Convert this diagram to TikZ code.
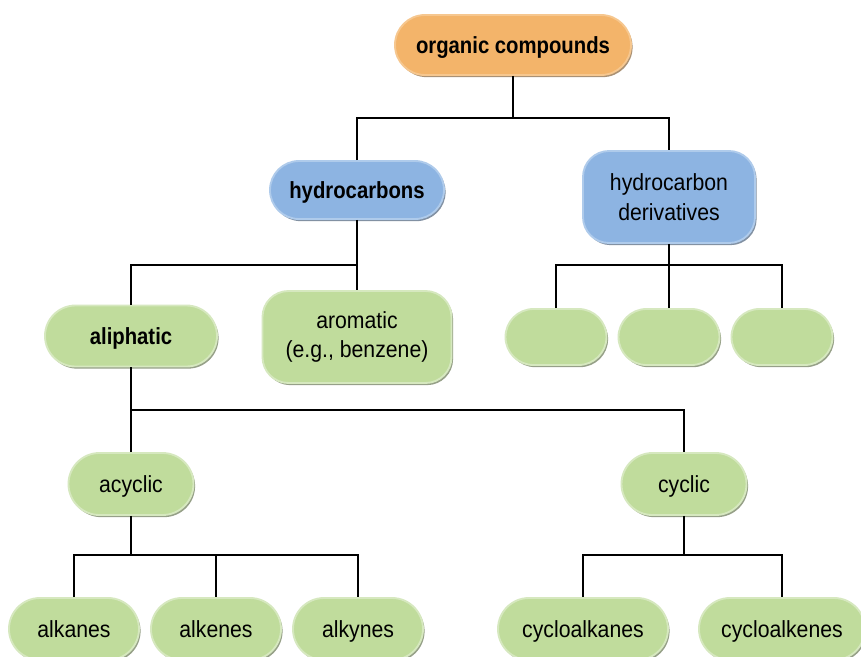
\documentclass[tikz,border=0pt]{standalone}
\usepackage{fontspec}
\setmainfont{Liberation Sans}[FakeStretch=0.91,BoldFeatures={FakeStretch=0.87}]
\usetikzlibrary{shadows}
\definecolor{orgF}{HTML}{F3B46A}
\definecolor{bluF}{HTML}{8DB4E2}
\definecolor{grnF}{HTML}{C0DC9C}
\tikzset{
  bw/.style={minimum width=#1*0.75pt},
  bh/.style={minimum height=#1*0.75pt},
  pill/.style={rounded corners=#1*0.375pt},
  one/.style={text height=15pt, text depth=2.5pt},
  boxbase/.style={rectangle, inner sep=0pt, text=black,
    font=\fontsize{17.5}{22}\selectfont, align=center, line width=1.4pt},
  orgbox/.style={boxbase, fill=orgF, draw=orgF!75!white,
    drop shadow={shadow xshift=1.2pt, shadow yshift=-1.6pt, fill=orgF!55!black, opacity=0.7}},
  blubox/.style={boxbase, fill=bluF, draw=bluF!70!white,
    drop shadow={shadow xshift=1.2pt, shadow yshift=-1.6pt, fill=bluF!55!black, opacity=0.7}},
  grnbox/.style={boxbase, fill=grnF, draw=grnF!65!white,
    drop shadow={shadow xshift=1.2pt, shadow yshift=-1.6pt, fill=grnF!55!black, opacity=0.7}},
  link/.style={draw=black, line width=1.5pt}
}
\begin{document}
\begin{tikzpicture}[x=0.75pt,y=-0.75pt]
\useasboundingbox[fill=white] (0,0) rectangle (861,657);
% nodes
\node[orgbox, one, bw=236, bh=60, pill=60] (oc) at (513,45) {\bfseries organic compounds};
\node[blubox, one, bw=174, bh=58, pill=58] (hc) at (357,190) {\bfseries hydrocarbons};
\node[blubox, bw=172, bh=92, pill=52] (hd) at (669,197) {hydrocarbon\\derivatives};
\node[grnbox, one, bw=172, bh=61, pill=61] (ali) at (131,336) {\bfseries aliphatic};
\node[grnbox, bw=189, bh=92, pill=52] (aro) at (357,337) {aromatic\\(e.g., benzene)};
\node[grnbox, bw=101, bh=56, pill=56] (e1) at (556,337) {};
\node[grnbox, bw=101, bh=56, pill=56] (e2) at (669,337) {};
\node[grnbox, bw=101, bh=56, pill=56] (e3) at (782,337) {};
\node[grnbox, one, bw=125, bh=62, pill=62] (acy) at (131,484) {acyclic};
\node[grnbox, one, bw=125, bh=62, pill=62] (cyc) at (684,484) {cyclic};
\node[grnbox, one, bw=130, bh=62, pill=62] (alka) at (74,629) {alkanes};
\node[grnbox, one, bw=130, bh=62, pill=62] (alke) at (216,629) {alkenes};
\node[grnbox, one, bw=130, bh=62, pill=62] (alky) at (358,629) {alkynes};
\node[grnbox, one, bw=170, bh=62, pill=62] (cya) at (583,629) {cycloalkanes};
\node[grnbox, one, bw=166, bh=62, pill=62] (cye) at (782,629) {cycloalkenes};
% junctions
\coordinate (j1) at (513,118);
\coordinate (j2) at (357,265);
\coordinate (j3) at (669,265);
\coordinate (j4) at (131,410);
\coordinate (j5) at (131,555);
\coordinate (j6) at (684,555);
% connectors
\draw[link] (oc.south) -- (j1);
\draw[link] (hc.north) |- (j1) -| (hd.north);
\draw[link] (hc.south) -- (j2);
\draw[link] (ali.north) |- (j2) -| (aro.north);
\draw[link] (hd.south) -- (j3);
\draw[link] (e1.north) |- (j3) -| (e3.north);
\draw[link] (j3) -- (e2.north);
\draw[link] (ali.south) -- (j4);
\draw[link] (acy.north) |- (j4) -| (cyc.north);
\draw[link] (acy.south) -- (j5);
\draw[link] (alka.north) |- (j5) -| (alky.north);
\draw[link] (j5) -| (alke.north);
\draw[link] (cyc.south) -- (j6);
\draw[link] (cya.north) |- (j6) -| (cye.north);
\end{tikzpicture}
\end{document}
